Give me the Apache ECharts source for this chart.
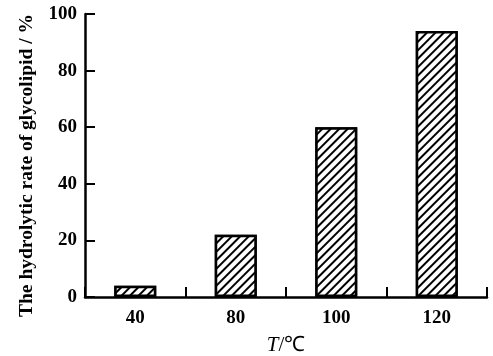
<!DOCTYPE html>
<html><head><meta charset="utf-8">
<script src="https://cdn.jsdelivr.net/npm/echarts@6/dist/echarts.min.js"></script>
<style>html,body{margin:0;padding:0;background:#fff}#c{width:493px;height:356px}</style>
</head><body><div id="c"></div>
<script>
const categories = ['40', '80', '100', '120'];
const rates = [4, 22, 60, 94];
const yTicks = [0, 20, 40, 60, 80, 100];

const chart = echarts.init(document.getElementById('c'));
const font = '"Liberation Serif", "Times New Roman", serif';
chart.setOption({
  animation: false,
  backgroundColor: '#fff',
  grid: { left: 85, right: 6, top: 14, bottom: 59, containLabel: false, outerBoundsMode: 'none' },
  xAxis: {
    type: 'category',
    data: categories,
    name: '{i|T}{n|/℃}',
    nameLocation: 'middle',
    nameGap: 38,
    nameTextStyle: {
      rich: {
        i: { fontFamily: font, fontStyle: 'italic', fontSize: 21, color: '#000' },
        n: { fontFamily: font, fontSize: 21, color: '#000' }
      }
    },
    axisLine: { lineStyle: { color: '#000', width: 2.5 } },
    axisTick: { show: true, inside: true, length: 10, lineStyle: { color: '#000', width: 2 }, alignWithLabel: false },
    axisLabel: { color: '#000', fontFamily: font, fontWeight: 'bold', fontSize: 19, margin: 12 }
  },
  yAxis: {
    type: 'value',
    min: yTicks[0],
    max: yTicks[yTicks.length - 1],
    interval: 20,
    name: 'The hydrolytic rate of glycolipid / %',
    nameLocation: 'middle',
    nameGap: 48,
    nameTextStyle: { color: '#000', fontFamily: font, fontWeight: 'bold', fontSize: 19.5, padding: [0, 0, 0, -20] },
    axisLine: { show: true, lineStyle: { color: '#000', width: 2.5 } },
    axisTick: { show: true, inside: true, length: 10, lineStyle: { color: '#000', width: 2 } },
    axisLabel: { color: '#000', fontFamily: font, fontWeight: 'bold', fontSize: 19, margin: 8 },
    splitLine: { show: false }
  },
  series: [{
    type: 'bar',
    data: rates,
    barWidth: 42,
    itemStyle: {
      color: '#fff',
      borderColor: '#000',
      borderWidth: 2.5,
      decal: {
        symbol: 'rect',
        color: '#000',
        backgroundColor: '#fff',
        dashArrayX: [1, 0],
        dashArrayY: [2, 4],
        rotation: -Math.PI / 4,
        symbolSize: 1
      }
    }
  }]
});
</script></body></html>
